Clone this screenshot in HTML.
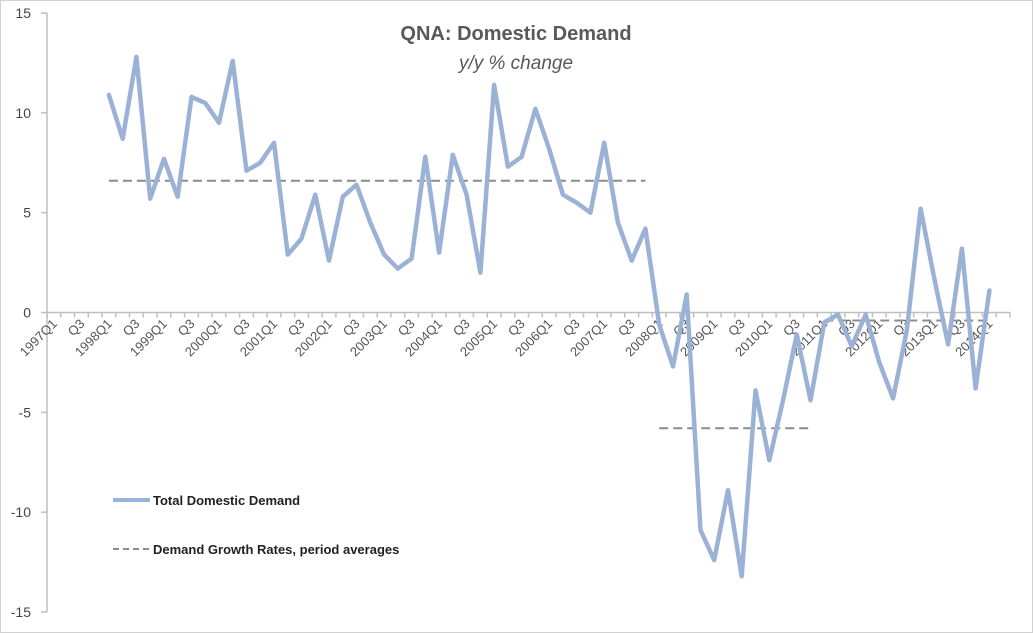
<!DOCTYPE html>
<html><head><meta charset="utf-8"><style>
html,body{margin:0;padding:0;background:#fff;}
svg{display:block;font-family:"Liberation Sans",sans-serif;}
</style></head><body>
<svg id="chart" width="1033" height="633" viewBox="0 0 1033 633" xmlns="http://www.w3.org/2000/svg">
<rect x="0.5" y="0.5" width="1032" height="632" fill="#fff" stroke="#d0d0d0"/>
<text x="516" y="40" text-anchor="middle" font-size="20" font-weight="bold" fill="#595959">QNA: Domestic Demand</text>
<text x="516" y="69" text-anchor="middle" font-size="19" font-style="italic" fill="#595959">y/y % change</text>
<g id="axes"></g>
<g id="marks"></g>
<g>
<line x1="113" y1="500" x2="150" y2="500" stroke="#9bb2d6" stroke-width="4"/>
<text x="153" y="505" font-size="13" font-weight="bold" fill="#222">Total Domestic Demand</text>
<line x1="113" y1="549" x2="150" y2="549" stroke="#8c8c8c" stroke-width="2" stroke-dasharray="6,4"/>
<text x="153" y="554" font-size="13" font-weight="bold" fill="#222">Demand Growth Rates, period averages</text>
</g>
</svg>
<script>
const firstYear = 1997;
const categoryCount = 70;
const seriesStartIndex = 4;
const demandValues = [10.9,8.7,12.8,5.7,7.7,5.8,10.8,10.5,9.5,12.6,7.1,7.5,8.5,2.9,3.7,5.9,2.6,5.8,6.4,4.5,2.9,2.2,2.7,7.8,3.0,7.9,5.9,2.0,11.4,7.3,7.8,10.2,8.2,5.9,5.5,5.0,8.5,4.5,2.6,4.2,-0.6,-2.7,0.9,-10.9,-12.4,-8.9,-13.2,-3.9,-7.4,-4.4,-1.1,-4.4,-0.5,-0.1,-1.7,-0.1,-2.5,-4.3,-0.9,5.2,1.7,-1.6,3.2,-3.8,1.1];
const periodAverages = [6.6,-5.8,-0.4];
const periodStart = [0,40,52];
const periodEnd = [39,51,64];
const yTicks = [-15,-10,-5,0,5,10,15];

const NS="http://www.w3.org/2000/svg";
const x0=47,x1=1010,yTop=13,yBot=612,yMin=-15,yMax=15;
const band=(x1-x0)/categoryCount;
const xc=i=>x0+(i+0.5)*band;
const y=v=>yBot-(v-yMin)/(yMax-yMin)*(yBot-yTop);
function mk(tag,attrs,parent){const e=document.createElementNS(NS,tag);for(const k in attrs)e.setAttribute(k,attrs[k]);parent.appendChild(e);return e;}
const axes=document.getElementById('axes'),marks=document.getElementById('marks');

let e=mk('line',{x1:x0,y1:yTop,x2:x0,y2:yBot,stroke:'#bfbfbf','stroke-width':1.5},axes);


yTicks.forEach(t=>{
  const tk=mk('line',{x1:x0-6,y1:y(t),x2:x0,y2:y(t),stroke:'#bfbfbf','stroke-width':1.5},axes);
  
  
  const tl=mk('text',{x:31,y:y(t)+5,'text-anchor':'end','font-size':14,fill:'#444'},axes);
  tl.textContent=t;
  
  
});
const y0=y(0);
e=mk('line',{x1:x0,y1:y0,x2:x1,y2:y0,stroke:'#bfbfbf','stroke-width':1.5},axes);


for(let i=0;i<=categoryCount;i++){
  const tk=mk('line',{x1:x0+i*band,y1:y0,x2:x0+i*band,y2:y0+5,stroke:'#bfbfbf','stroke-width':1.5},axes);
  
  
}
for(let i=0;i<categoryCount;i+=2){
  const q=i%4;
  const lab=q===0?(firstYear+i/4)+'Q1':'Q3';
  const ax=xc(i)+4,ay=y0+12;
  const tl=mk('text',{x:ax,y:ay,'text-anchor':'end','font-size':13,fill:'#555',transform:`rotate(-45 ${ax} ${ay})`},axes);
  tl.textContent=lab;
  
  
}
periodAverages.forEach((v,p)=>{
  const l=mk('line',{x1:xc(seriesStartIndex+periodStart[p]),y1:y(v),x2:xc(seriesStartIndex+periodEnd[p]),y2:y(v),stroke:'#8c8c8c','stroke-width':2,'stroke-dasharray':'9,5'},marks);
  
  
});
const pts=demandValues.map((v,k)=>xc(seriesStartIndex+k).toFixed(1)+','+y(v).toFixed(1)).join(' ');
const pl=mk('polyline',{points:pts,fill:'none',stroke:'#9bb2d6','stroke-width':4.5,'stroke-linejoin':'round','stroke-linecap':'round'},marks);


</script>
</body></html>
